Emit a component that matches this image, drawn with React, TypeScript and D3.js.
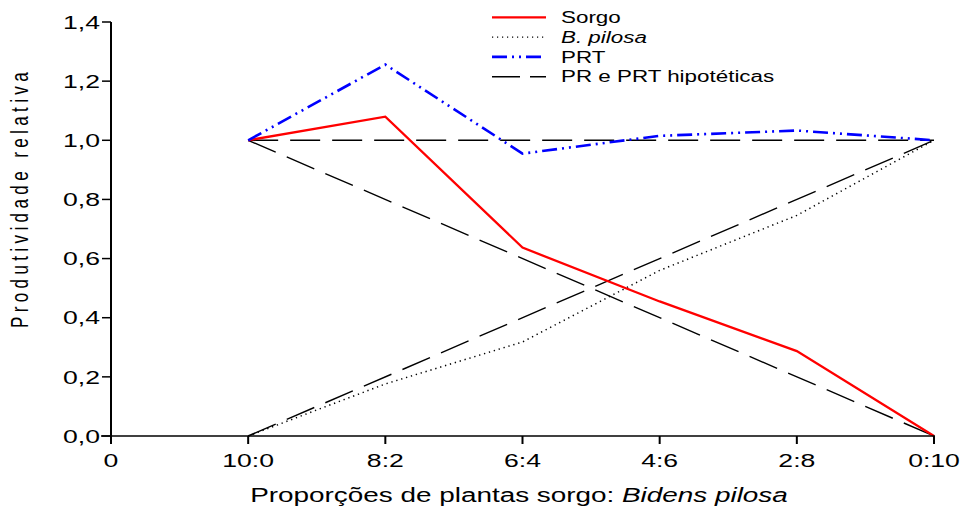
import React from "react";
import * as d3 from "d3";

const categories = ["0", "10:0", "8:2", "6:4", "4:6", "2:8", "0:10"];
const mixCategories = ["10:0", "8:2", "6:4", "4:6", "2:8", "0:10"];
const sorgo = [1.0, 1.08, 0.637, 0.455, 0.287, 0.0];
const pilosa = [0.0, 0.176, 0.318, 0.56, 0.746, 1.0];
const prt = [1.0, 1.256, 0.955, 1.015, 1.033, 1.0];
const hypoPrSorgo = [1.0, 0.0];
const hypoPrPilosa = [0.0, 1.0];
const hypoPrt = [1.0, 1.0];
const hypoCategories = ["10:0", "0:10"];
const yTicks = [0, 0.2, 0.4, 0.6, 0.8, 1.0, 1.2, 1.4];

const W = 968;
const H = 517;
const left = 111;
const right = 934;
const top = 22;
const bottom = 436;
const SX = 1.4;

export default function App() {
  const x = d3.scalePoint<string>().domain(categories).range([left, right]);
  const y = d3.scaleLinear().domain([0, 1.4]).range([bottom, top]);
  const fmt = (v: number) => v.toFixed(1).replace(".", ",");

  const line = d3
    .line<[string, number]>()
    .x((d) => x(d[0]) as number)
    .y((d) => y(d[1]));

  const zip = (cats: string[], vals: number[]) =>
    cats.map((c, i) => [c, vals[i]] as [string, number]);

  const font = "'Liberation Sans', Arial, sans-serif";

  const legend = [
    { label: "Sorgo", stroke: "#ff0000", dash: "", width: 2.2, italic: false },
    { label: "B. pilosa", stroke: "#000", dash: "1.2,3.8", width: 1.4, italic: true },
    { label: "PRT", stroke: "#0000ff", dash: "15,5,2,5,2,5", width: 2.6, italic: false },
    { label: "PR e PRT hipotéticas", stroke: "#000", dash: "28,10", width: 1.6, italic: false },
  ];

  return (
    <svg
      width={W}
      height={H}
      style={{ position: "absolute", left: 0, top: 0, background: "#fff" }}
      fontFamily={font}
    >
      {/* hypothetical lines */}
      <path d={line(zip(hypoCategories, hypoPrt)) || ""} fill="none" stroke="#000" strokeWidth={1.6} strokeDasharray="30,12" />
      <path d={line(zip(hypoCategories, hypoPrSorgo)) || ""} fill="none" stroke="#000" strokeWidth={1.4} strokeDasharray="30,12" />
      <path d={line(zip(hypoCategories, hypoPrPilosa)) || ""} fill="none" stroke="#000" strokeWidth={1.4} strokeDasharray="30,12" />
      {/* pilosa */}
      <path d={line(zip(mixCategories, pilosa)) || ""} fill="none" stroke="#000" strokeWidth={1.5} strokeDasharray="1.3,3.8" />
      {/* sorgo */}
      <path d={line(zip(mixCategories, sorgo)) || ""} fill="none" stroke="#ff0000" strokeWidth={2.3} />
      {/* PRT */}
      <path d={line(zip(mixCategories, prt)) || ""} fill="none" stroke="#0000ff" strokeWidth={2.6} strokeDasharray="15,5,2,5,2,5" />

      {/* axes */}
      <line x1={left - 10} x2={right + 1} y1={bottom} y2={bottom} stroke="#000" strokeWidth={1.6} />
      <line x1={left} x2={left} y1={top} y2={bottom + 4} stroke="#000" strokeWidth={2} />
      {yTicks.map((t) => (
        <g key={"y" + t}>
          <line x1={left - 9} x2={left} y1={y(t)} y2={y(t)} stroke="#000" strokeWidth={1.5} />
          <text
            transform={`translate(${left - 11},${y(t)}) scale(${SX},1)`}
            dy="0.35em"
            textAnchor="end"
            fontSize={19}
            fill="#000"
          >
            {fmt(t)}
          </text>
        </g>
      ))}
      {categories.map((c) => (
        <g key={"x" + c}>
          <line x1={x(c)} x2={x(c)} y1={bottom} y2={bottom + 8} stroke="#000" strokeWidth={2} />
          <text
            transform={`translate(${x(c)},${bottom + 31}) scale(${SX},1)`}
            textAnchor="middle"
            fontSize={19}
            fill="#000"
          >
            {c}
          </text>
        </g>
      ))}

      {/* axis titles */}
      <text
        transform={`translate(28,198) scale(${SX},1) rotate(-90)`}
        textAnchor="middle"
        fontSize={17}
        letterSpacing={4.4}
        fill="#000"
      >
        Produtividade relativa
      </text>
      <text
        transform={`translate(519,502) scale(1.43,1)`}
        textAnchor="middle"
        fontSize={19.5}
        fill="#000"
      >
        Proporções de plantas sorgo: <tspan fontStyle="italic">Bidens pilosa</tspan>
      </text>

      {/* legend */}
      {legend.map((l, i) => {
        const ly = 17.3 + i * 19.8;
        return (
          <g key={l.label}>
            <line x1={492} x2={546} y1={ly} y2={ly} stroke={l.stroke} strokeWidth={l.width} strokeDasharray={l.dash} />
            <text
              transform={`translate(561,${ly}) scale(${SX},1)`}
              dy="0.35em"
              fontSize={16}
              fontStyle={l.italic ? "italic" : "normal"}
              fill="#000"
            >
              {l.label}
            </text>
          </g>
        );
      })}
    </svg>
  );
}
